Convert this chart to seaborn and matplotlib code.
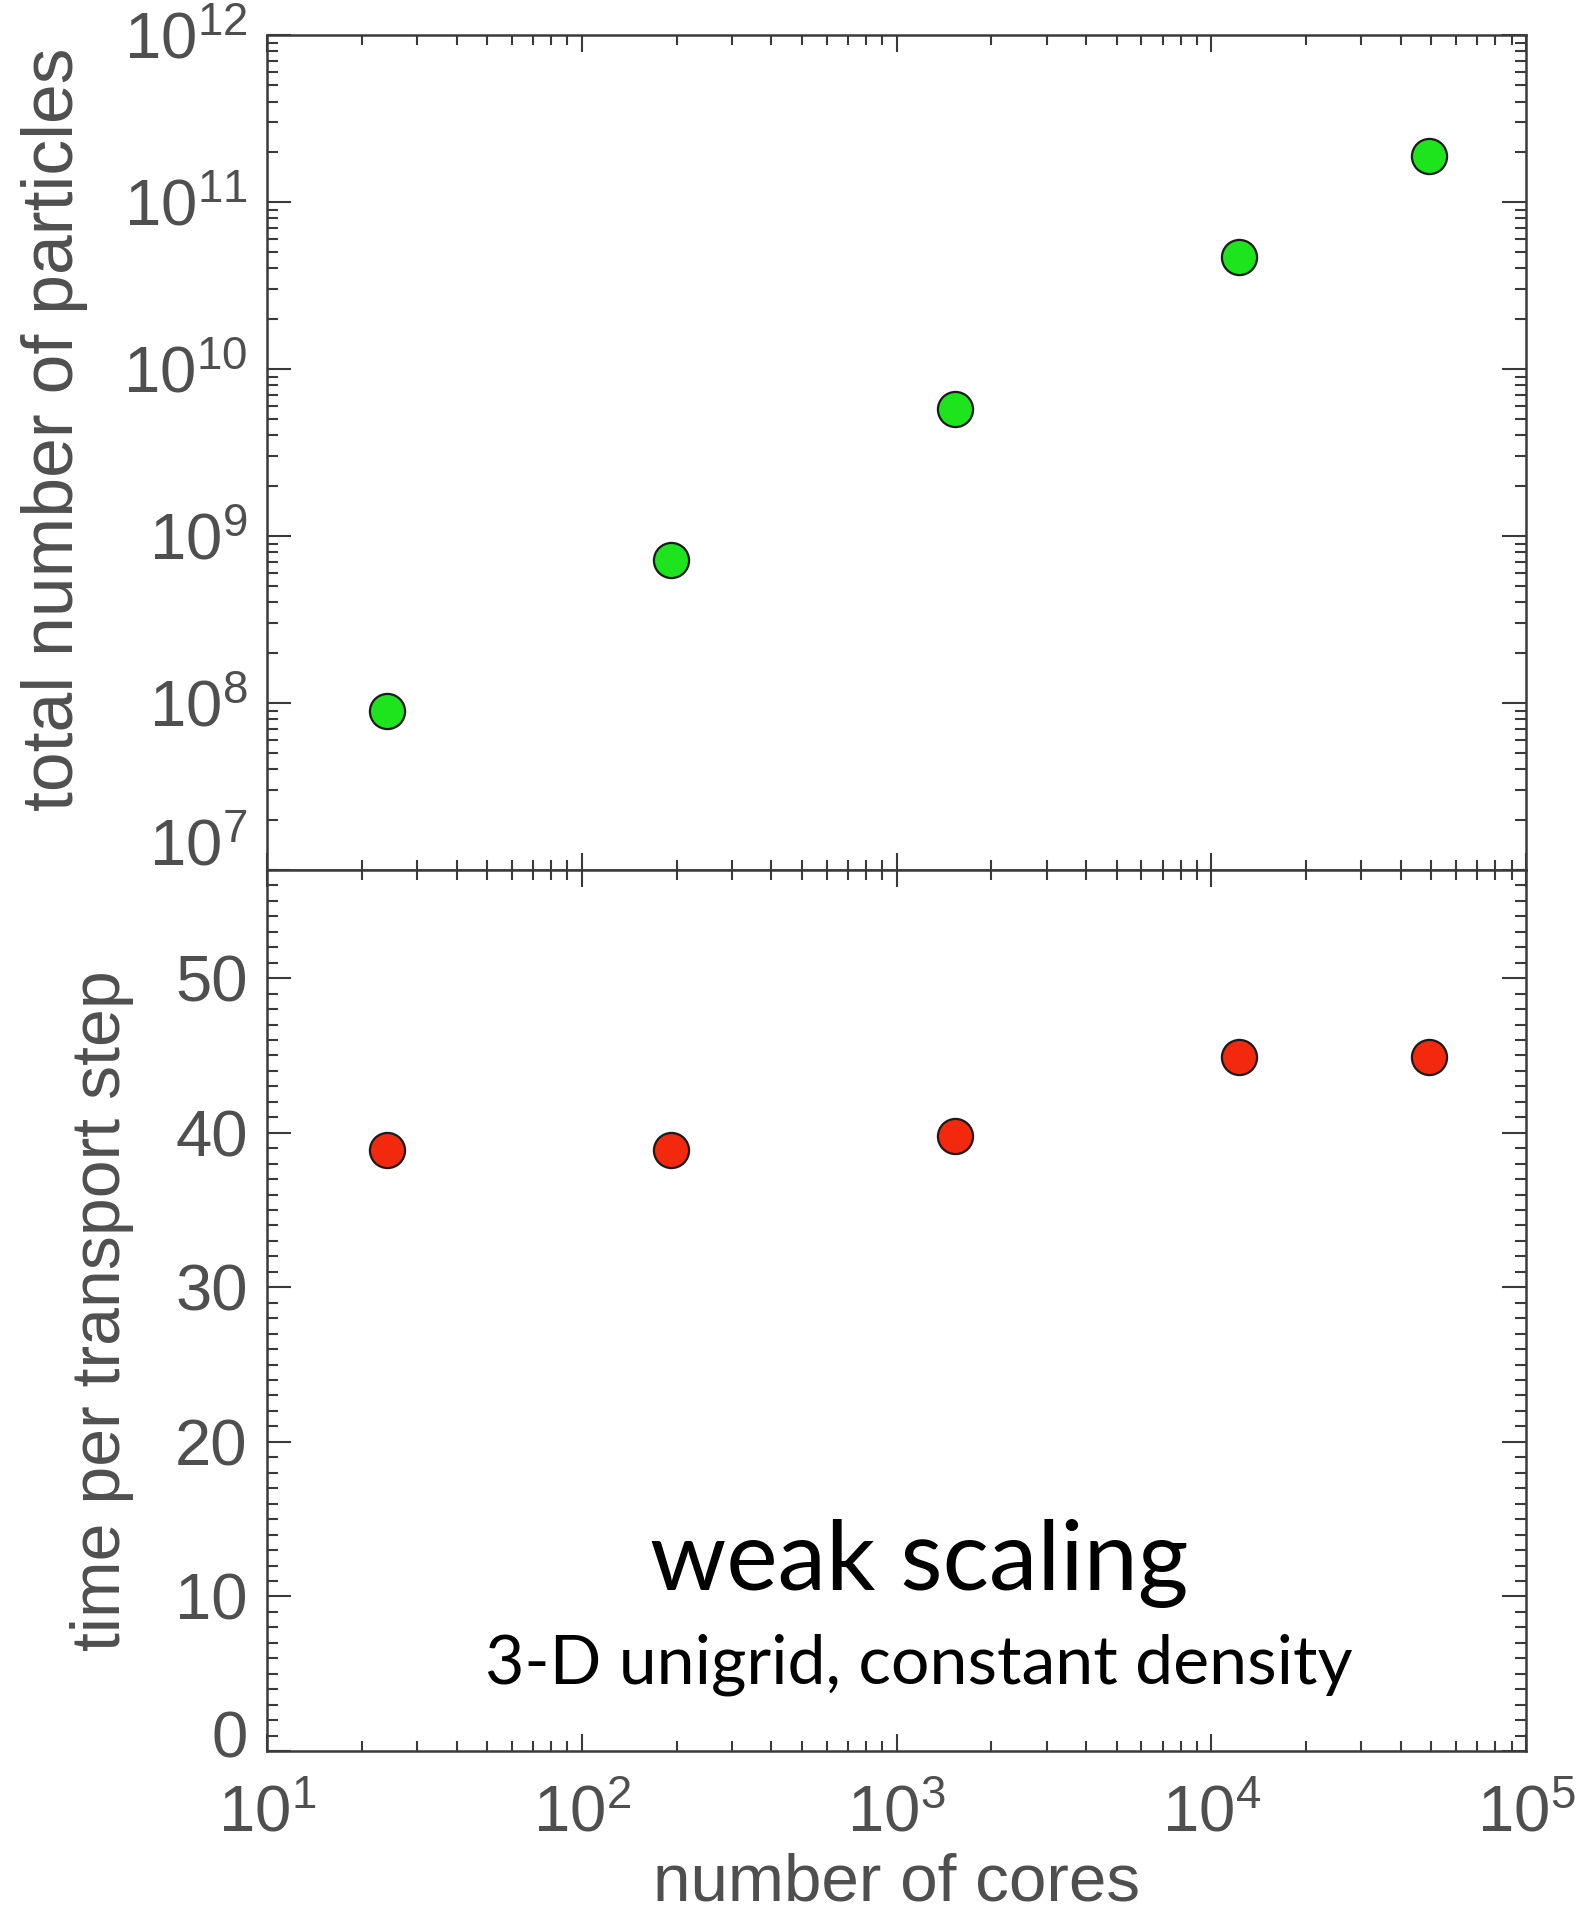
import numpy as np
import pandas as pd
import matplotlib
matplotlib.use("Agg")
import matplotlib.pyplot as plt
import matplotlib.ticker as mticker
from matplotlib.transforms import ScaledTranslation
import seaborn as sns

# Weak-scaling measurements
cores = [24, 192, 1536, 12288, 49152]
total_particles = [8.9e7, 7.2e8, 5.8e9, 4.7e10, 1.9e11]
time_per_step = [38.9, 38.9, 39.8, 44.9, 44.9]

x_ticks = [1e1, 1e2, 1e3, 1e4, 1e5]
y_top_ticks = [1e7, 1e8, 1e9, 1e10, 1e11, 1e12]
y_bottom_ticks = [0, 10, 20, 30, 40, 50]

title_text = "weak scaling"
subtitle_text = "3-D unigrid, constant density"

df = pd.DataFrame({"cores": cores, "particles": total_particles, "time": time_per_step})

sns.set_theme(style="ticks")
plt.rcParams["font.family"] = ["Liberation Sans", "DejaVu Sans"]
plt.rcParams["mathtext.fontset"] = "custom"
plt.rcParams["mathtext.rm"] = "Liberation Sans"
plt.rcParams["mathtext.it"] = "Liberation Sans:italic"
plt.rcParams["mathtext.bf"] = "Liberation Sans:bold"
plt.rcParams["mathtext.default"] = "regular"

TXT = "#4f4f4f"
AX = "#3a3a3a"

fig = plt.figure(figsize=(15.82, 19.17), dpi=100)
left, right = 0.1688, 0.9646
top, mid, bottom = 0.9817, 0.5462, 0.0866
ax1 = fig.add_axes([left, mid, right - left, top - mid])
ax2 = fig.add_axes([left, bottom, right - left, mid - bottom], sharex=ax1)

sns.scatterplot(data=df, x="cores", y="particles", ax=ax1, s=640,
                color="#1ee41e", edgecolor="#1a1a1a", linewidth=1.6, zorder=3)
sns.scatterplot(data=df, x="cores", y="time", ax=ax2, s=640,
                color="#f2290c", edgecolor="#1a1a1a", linewidth=1.6, zorder=3)

for ax in (ax1, ax2):
    ax.set_xscale("log")
    ax.set_xlim(1e1, 1e5)
    ax.set_xticks(x_ticks)
    ax.xaxis.set_minor_locator(mticker.LogLocator(base=10, subs=np.arange(2, 10), numticks=20))
    for s in ax.spines.values():
        s.set_linewidth(1.8)
        s.set_color(AX)
        s.set_visible(True)
    ax.tick_params(axis="both", which="both", direction="in", top=True, right=True,
                   color=AX, width=1.5, labelcolor=TXT, labelsize=47)
    ax.tick_params(axis="x", which="major", length=12, pad=24)
    ax.tick_params(axis="x", which="minor", length=7)
    ax.tick_params(axis="y", which="major", length=17, pad=14)
    ax.tick_params(axis="y", which="minor", length=8)

# Top panel: particle count
ax1.set_yscale("log")
ax1.set_ylim(1e7, 1e12)
ax1.set_yticks(y_top_ticks)
ax1.yaxis.set_major_formatter(mticker.LogFormatterMathtext())
ax1.yaxis.set_minor_locator(mticker.LogLocator(base=10, subs=np.arange(2, 10), numticks=20))
ax1.yaxis.set_minor_formatter(mticker.NullFormatter())
ax1.tick_params(axis="x", which="both", labelbottom=False)
ax1.set_xlabel("")
ax1.set_ylabel("total number of particles", fontsize=51.5, color=TXT)
ax1.yaxis.set_label_coords(-0.142, 0.528)

# Bottom panel: time per step
ax2.set_ylim(0, 57)
ax2.set_yticks(y_bottom_ticks)
ax2.yaxis.set_minor_locator(mticker.MultipleLocator(1))
ax2.xaxis.set_major_formatter(mticker.LogFormatterMathtext())
ax2.xaxis.set_minor_formatter(mticker.NullFormatter())
ax2.set_xlabel("number of cores", fontsize=48.5, color=TXT, labelpad=6)
ax2.set_ylabel("time per transport step", fontsize=49, color=TXT)
ax2.yaxis.set_label_coords(-0.106, 0.5)

# Lift the lowest labels of each panel clear of the shared corner
for axis_obj, dy in ((ax1.yaxis, 28), (ax2.yaxis, 17)):
    lowest = axis_obj.get_major_ticks()[0].label1
    lowest.set_transform(lowest.get_transform() + ScaledTranslation(0, dy / 100, fig.dpi_scale_trans))

ax2.text(0.518, 0.183, title_text, transform=ax2.transAxes, ha="center", va="baseline",
         fontsize=70, color="black", family=["Lato", "DejaVu Sans"])
ax2.text(0.518, 0.077, subtitle_text, transform=ax2.transAxes, ha="center", va="baseline",
         fontsize=49, color="black", family=["Lato", "DejaVu Sans"])

fig.savefig("out.png", dpi=100, facecolor="white")
